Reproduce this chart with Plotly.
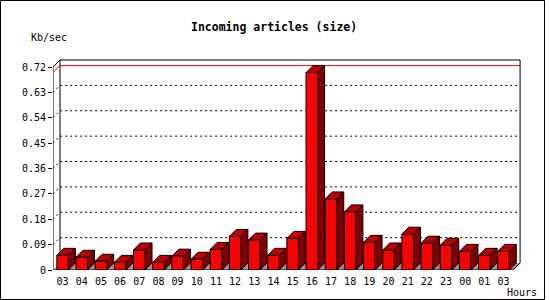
import plotly.graph_objects as go

# ---- data ----
hours = ["03", "04", "05", "06", "07", "08", "09", "10", "11", "12", "13", "14",
         "15", "16", "17", "18", "19", "20", "21", "22", "23", "00", "01", "03"]
kb_sec = [0.052, 0.045, 0.031, 0.027, 0.071, 0.027, 0.049, 0.038, 0.073, 0.119, 0.106, 0.052,
          0.112, 0.700, 0.252, 0.206, 0.098, 0.071, 0.127, 0.095, 0.088, 0.066, 0.052, 0.066]
y_ticks = [0, 0.09, 0.18, 0.27, 0.36, 0.45, 0.54, 0.63, 0.72]
y_tick_text = ["0", "0.09", "0.18", "0.27", "0.36", "0.45", "0.54", "0.63", "0.72"]
y_max = 0.72

# ---- geometry (pixels -> data units) ----
W, H = 550, 300
ML, MB = 53, 30            # front axis position in pixels
SPACING = 19.17            # px per category
PPU = 203 / y_max          # px per unit value
plot_w = W - ML
plot_h = H - MB
x_range = [-0.5, -0.5 + plot_w / SPACING]
y_range = [0, plot_h / PPU]
dx = 7 / SPACING
dy = 7 / PPU
hw = 0.3
n = len(hours)
xl, xr = -0.5, n - 0.5

def px_x(p):
    return (p - ML) / plot_w

def px_y(p):
    return (plot_h - p) / plot_h

fig = go.Figure()

# floor
fig.add_trace(go.Scatter(x=[xl, xr, xr + dx, xl + dx, xl], y=[0, 0, dy, dy, 0],
                         fill="toself", fillcolor="#999999", mode="lines",
                         line=dict(color="#999999", width=0), hoverinfo="skip"))

# dotted grid on back wall and left wall
gx, gy = [], []
for t in y_ticks[1:-1]:
    gx += [xl, xl + dx, xr + dx, None]
    gy += [t, t + dy, t + dy, None]
fig.add_trace(go.Scatter(x=gx, y=gy, mode="lines",
                         line=dict(color="black", width=1, dash="2px,3px"), hoverinfo="skip"))

# max line (red)
vmax = max(kb_sec)
fig.add_trace(go.Scatter(x=[xl, xl + dx, xr + dx], y=[vmax, vmax + dy, vmax + dy], mode="lines",
                         line=dict(color="red", width=1), hoverinfo="skip"))

# frame of the 3D box
fx = [xl, xl, xl + dx, xr + dx, xr + dx, xr, xl, None, xl + dx, xl + dx]
fy = [0, y_max, y_max + dy, y_max + dy, dy, 0, 0, None, y_max + dy, dy]
fig.add_trace(go.Scatter(x=fx, y=fy, mode="lines", line=dict(color="black", width=1),
                         hoverinfo="skip"))

# bars: front, top, side faces
front_x, front_y, top_x, top_y, side_x, side_y = [], [], [], [], [], []
for i, v in enumerate(kb_sec):
    a, b = i - hw, i + hw
    front_x += [a, b, b, a, a, None]
    front_y += [0, 0, v, v, 0, None]
    top_x += [a, b, b + dx, a + dx, a, None]
    top_y += [v, v, v + dy, v + dy, v, None]
    side_x += [b, b + dx, b + dx, b, b, None]
    side_y += [0, dy, v + dy, v, 0, None]

for xs, ys, col in [(side_x, side_y, "#800000"), (top_x, top_y, "#c00000"),
                    (front_x, front_y, "#ff0000")]:
    fig.add_trace(go.Scatter(x=xs, y=ys, fill="toself", fillcolor=col, mode="lines",
                             line=dict(color="black", width=1), hoverinfo="skip"))

# category boundary tick marks below the front edge
bounds = [i - 0.5 for i in range(n + 1)]
fig.add_trace(go.Scatter(x=bounds, y=[-2.5 / PPU] * len(bounds), mode="markers",
                         marker=dict(symbol="line-ns", size=5, color="black",
                                     line=dict(color="black", width=1.2)),
                         cliponaxis=False, hoverinfo="skip"))

mono = "DejaVu Sans Mono"
fig.update_layout(
    width=W, height=H, autosize=False,
    margin=dict(l=ML, r=0, t=0, b=MB, pad=0),
    plot_bgcolor="white", paper_bgcolor="white", showlegend=False,
    xaxis=dict(range=x_range, tickmode="array", tickvals=list(range(n)), ticktext=hours,
               ticks="outside", ticklen=2, tickcolor="rgba(0,0,0,0)",
               showgrid=False, zeroline=False, showline=False,
               tickfont=dict(family=mono, size=10, color="black")),
    yaxis=dict(range=y_range, tickmode="array", tickvals=y_ticks, ticktext=y_tick_text,
               ticks="outside", ticklen=4, tickcolor="black", showgrid=False,
               zeroline=False, showline=False,
               tickfont=dict(family=mono, size=10, color="black")),
    annotations=[
        dict(text="<b>Incoming articles (size)</b>", xref="paper", yref="paper",
             x=px_x(274), y=px_y(27), xanchor="center", yanchor="middle", showarrow=False,
             font=dict(family=mono, size=11.5, color="black")),
        dict(text="Kb/sec", xref="paper", yref="paper", x=px_x(29), y=px_y(37),
             xanchor="left", yanchor="middle", showarrow=False,
             font=dict(family=mono, size=10, color="black")),
        dict(text="Hours", xref="paper", yref="paper", x=px_x(505), y=px_y(292.5),
             xanchor="left", yanchor="middle", showarrow=False,
             font=dict(family=mono, size=10, color="black")),
    ],
    shapes=[dict(type="rect", xref="paper", yref="paper",
                 x0=px_x(0.5), x1=px_x(544.5), y0=px_y(299.5), y1=px_y(0.5),
                 line=dict(color="black", width=1))],
)

fig.write_html("out.html", config={"displayModeBar": False})
